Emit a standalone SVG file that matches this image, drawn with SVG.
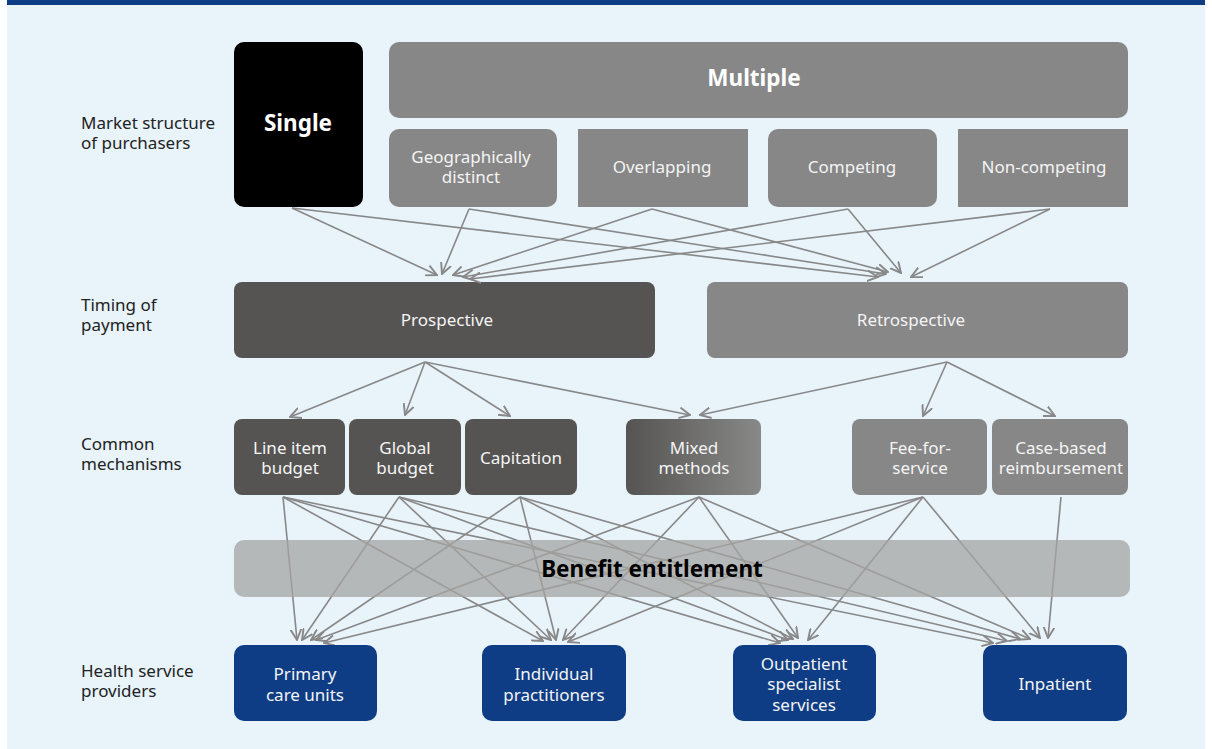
<svg xmlns="http://www.w3.org/2000/svg" width="1212" height="749" viewBox="0 0 1212 749">
<style>
.lbl{font-family:"Noto Sans","Open Sans",sans-serif;font-size:17px;fill:#222}
.nt{font-family:"Noto Sans","Open Sans",sans-serif;font-size:17px;fill:#f4f4f4;text-anchor:middle}
.big{font-family:"Noto Sans","Open Sans",sans-serif;font-size:22.5px;font-weight:bold;text-anchor:middle}
.dark{fill:#555452}
.mid{fill:#878787}
.blue{fill:#0e3d85}
.cn path{fill:none;stroke:#888;stroke-width:1.6;marker-end:url(#ah)}
</style>
<defs>
<marker id="ah" markerUnits="userSpaceOnUse" markerWidth="12" markerHeight="12" refX="9" refY="5" orient="auto" viewBox="0 0 10 10">
<path d="M0,0.5 L9,5 L0,9.5" fill="none" stroke="#888" stroke-width="1.6"/>
</marker>
<linearGradient id="mix" x1="0" x2="1" y1="0" y2="0">
<stop offset="0" stop-color="#555452"/>
<stop offset="1" stop-color="#888888"/>
</linearGradient>
</defs>
<rect x="0" y="0" width="1212" height="749" fill="#ffffff"/>
<rect x="7" y="0" width="1198" height="749" fill="#e8f3fa"/>
<rect x="7" y="0" width="1198" height="5" fill="#0e3d85"/>

<g id="labels">
<text class="lbl" x="81" y="129">Market structure<tspan x="81" dy="20">of purchasers</tspan></text>
<text class="lbl" x="81" y="311">Timing of<tspan x="81" dy="20">payment</tspan></text>
<text class="lbl" x="81" y="450">Common<tspan x="81" dy="20">mechanisms</tspan></text>
<text class="lbl" x="81" y="677">Health service<tspan x="81" dy="20">providers</tspan></text>
</g>

<g id="single"><rect x="234" y="42" width="129" height="165" rx="10" fill="#000"/><text class="big" x="298" y="131" fill="#fff">Single</text></g>
<g id="multiple"><rect x="389" y="42" width="739" height="76" rx="10" class="mid"/><text class="big" x="754" y="86" fill="#fff">Multiple</text></g>
<g id="geo"><rect x="389" y="129" width="168" height="78" rx="10" class="mid"/><text class="nt" x="471" y="163">Geographically<tspan x="471" dy="20">distinct</tspan></text></g>
<g id="overlapping"><rect x="578" y="129" width="170" height="78" class="mid"/><text class="nt" x="662" y="173">Overlapping</text></g>
<g id="competing"><rect x="768" y="129" width="169" height="78" rx="10" class="mid"/><text class="nt" x="852" y="173">Competing</text></g>
<g id="noncompeting"><rect x="958" y="129" width="170" height="78" class="mid"/><text class="nt" x="1044" y="173">Non-competing</text></g>

<g id="prospective"><rect x="234" y="282" width="421" height="76" rx="8" class="dark"/><text class="nt" x="447" y="326">Prospective</text></g>
<g id="retrospective"><rect x="707" y="282" width="421" height="76" rx="8" class="mid"/><text class="nt" x="911" y="326">Retrospective</text></g>

<g id="lineitem"><rect x="234" y="419" width="111" height="76" rx="8" class="dark"/><text class="nt" x="290" y="454">Line item<tspan x="290" dy="20">budget</tspan></text></g>
<g id="global"><rect x="349" y="419" width="112" height="76" rx="8" class="dark"/><text class="nt" x="405" y="454">Global<tspan x="405" dy="20">budget</tspan></text></g>
<g id="capitation"><rect x="465" y="419" width="112" height="76" rx="8" class="dark"/><text class="nt" x="521" y="464">Capitation</text></g>
<g id="mixed"><rect x="626" y="419" width="135" height="76" rx="8" fill="url(#mix)"/><text class="nt" x="694" y="454">Mixed<tspan x="694" dy="20">methods</tspan></text></g>
<g id="fee"><rect x="852" y="419" width="135" height="76" rx="8" class="mid"/><text class="nt" x="920" y="454">Fee-for-<tspan x="920" dy="20">service</tspan></text></g>
<g id="casebased"><rect x="992" y="419" width="136" height="76" rx="8" class="mid"/><text class="nt" x="1061" y="454">Case-based<tspan x="1061" dy="20">reimbursement</tspan></text></g>

<g id="connectors" class="cn">
<path d="M292,208 L437,275"/>
<path d="M292,208 L878,277"/>
<path d="M469,209 L442,274"/>
<path d="M469,209 L886,274"/>
<path d="M652,209 L453,275"/>
<path d="M652,209 L888,272"/>
<path d="M848,209 L463,277"/>
<path d="M848,209 L901,273"/>
<path d="M1050,209 L470,279"/>
<path d="M1050,209 L911,277"/>

<path d="M425,362 L290,417"/>
<path d="M425,362 L405,415"/>
<path d="M425,362 L510,416"/>
<path d="M425,362 L690,415"/>
<path d="M947,362 L700,415"/>
<path d="M947,362 L923,416"/>
<path d="M947,362 L1055,416"/>

<path d="M283,497 L297,640"/>
<path d="M283,497 L543,641"/>
<path d="M283,497 L780,643"/>
<path d="M283,497 L993,643"/>
<path d="M399,497 L302,640"/>
<path d="M399,497 L551,640"/>
<path d="M399,497 L788,640"/>
<path d="M399,497 L1007,641"/>
<path d="M520,497 L311,640"/>
<path d="M520,497 L556,640"/>
<path d="M520,497 L793,639"/>
<path d="M520,497 L1020,639"/>
<path d="M699,497 L316,640"/>
<path d="M699,497 L563,640"/>
<path d="M699,497 L798,638"/>
<path d="M699,497 L1030,639"/>
<path d="M923,497 L324,643"/>
<path d="M923,497 L568,642"/>
<path d="M923,497 L808,640"/>
<path d="M923,497 L1040,638"/>
<path d="M1061,497 L1048,638"/>
</g>

<g id="benefit"><rect x="234" y="540" width="896" height="57" rx="10" fill="#a4a4a2" fill-opacity="0.75"/><text class="big" x="652" y="577" fill="#000">Benefit entitlement</text></g>

<g id="primary"><rect x="234" y="645" width="143" height="76" rx="10" class="blue"/><text class="nt" x="305" y="680">Primary<tspan x="305" dy="21">care units</tspan></text></g>
<g id="individual"><rect x="482" y="645" width="144" height="76" rx="10" class="blue"/><text class="nt" x="554" y="680">Individual<tspan x="554" dy="21">practitioners</tspan></text></g>
<g id="outpatient"><rect x="733" y="645" width="143" height="76" rx="10" class="blue"/><text class="nt" x="804" y="670">Outpatient<tspan x="804" dy="20">specialist</tspan><tspan x="804" dy="21">services</tspan></text></g>
<g id="inpatient"><rect x="983" y="645" width="144" height="76" rx="10" class="blue"/><text class="nt" x="1055" y="690">Inpatient</text></g>
</svg>
